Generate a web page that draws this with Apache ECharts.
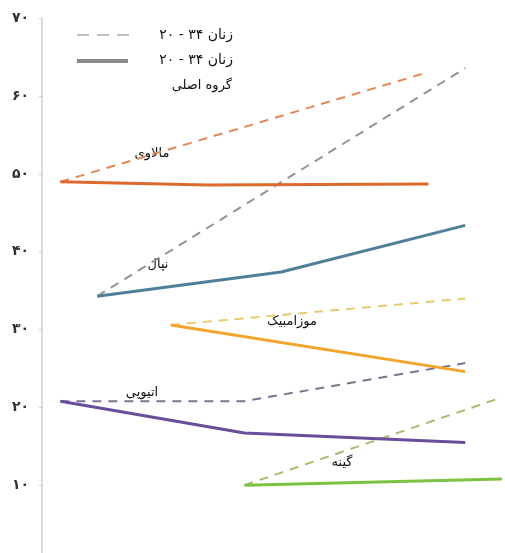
<!DOCTYPE html>
<html>
<head>
<meta charset="utf-8">
<script src="https://cdn.jsdelivr.net/npm/echarts@6/dist/echarts.min.js"></script>
<style>
html,body{margin:0;padding:0;background:#fff;}
#chart{width:505px;height:553px;}
</style>
</head>
<body>
<div id="chart"></div>
<script>
// Y tick labels (Persian digits)
var yTickLabels = ['۰','۱۰','۲۰','۳۰','۴۰','۵۰','۶۰','۷۰'];

// Legend texts
var legendWomen = 'زنان ۳۴ - ۲۰';
var legendMain = 'گروه اصلی';

// Countries
var countryNames = ['مالاوی','نپال','موزامبیک','اتیوپی','گینه'];

// Malawi
var malawiYears = [2000, 2004, 2010];
var malawiMain = [49.0, 48.6, 48.7];
var malawiWomenYears = [2000, 2010];
var malawiWomen = [49.0, 63.1];

// Nepal
var nepalYears = [2001, 2006, 2011];
var nepalMain = [34.3, 37.4, 43.4];
var nepalWomenYears = [2001, 2011];
var nepalWomen = [34.3, 63.6];

// Mozambique
var mozYears = [2003, 2011];
var mozMain = [30.6, 24.6];
var mozWomenYears = [2003, 2011];
var mozWomen = [30.6, 34.0];

// Ethiopia
var ethYears = [2000, 2005, 2011];
var ethMain = [20.8, 16.7, 15.5];
var ethWomenYears = [2000, 2005, 2011];
var ethWomen = [20.8, 20.8, 25.7];

// Guinea
var guiYears = [2005, 2012];
var guiMain = [10.0, 10.8];
var guiWomenYears = [2005, 2012];
var guiWomen = [10.0, 21.3];

function pairs(xs, ys){ return xs.map(function(x,i){ return [x, ys[i]]; }); }

function solid(name, xs, ys, color){
  return {type:'line', name:name, data:pairs(xs,ys), symbol:'none', z:3,
    lineStyle:{color:color, width:3}};
}
function dashed(name, xs, ys, color){
  return {type:'line', name:name, data:pairs(xs,ys), symbol:'none', z:2,
    lineStyle:{color:color, width:2, type:[9,7]}};
}

var chart = echarts.init(document.getElementById('chart'));
var font = "'DejaVu Sans', 'Noto Sans', sans-serif";

var option = {
  animation:false,
  backgroundColor:'#ffffff',
  grid:{left:42, top:18.4, width:460, height:544.6, containLabel:false, outerBoundsMode:'none'},
  xAxis:{type:'value', min:1999.5, max:2012, show:false},
  yAxis:{type:'value', min:0, max:70, interval:10,
    axisLine:{show:true, lineStyle:{color:'#cfcfcf', width:1.5}},
    axisTick:{show:true, length:3, lineStyle:{color:'#cfcfcf'}},
    splitLine:{show:false},
    axisLabel:{margin:13, fontSize:14, fontWeight:'bold', color:'#333', fontFamily:font,
      formatter:function(v){ return v === 0 ? '' : yTickLabels[Math.round(v/10)]; }}
  },
  series:[
    dashed('malawiWomen', malawiWomenYears, malawiWomen, '#e2895a'),
    dashed('nepalWomen', nepalWomenYears, nepalWomen, '#8c959b'),
    dashed('mozWomen', mozWomenYears, mozWomen, '#e6cc6e'),
    dashed('ethWomen', ethWomenYears, ethWomen, '#7e7492'),
    dashed('guiWomen', guiWomenYears, guiWomen, '#a9bd72'),
    solid('malawiMain', malawiYears, malawiMain, '#dc6a2c'),
    solid('nepalMain', nepalYears, nepalMain, '#4f8098'),
    solid('mozMain', mozYears, mozMain, '#f3a42c'),
    solid('ethMain', ethYears, ethMain, '#6a4d9b'),
    solid('guiMain', guiYears, guiMain, '#7cc243')
  ],
  graphic:[
    {type:'line', shape:{x1:77,y1:35,x2:129,y2:35}, style:{stroke:'#aaaaaa', lineWidth:1.5, lineDash:[12,8]}},
    {type:'line', shape:{x1:77,y1:61,x2:128,y2:61}, style:{stroke:'#8a8a8a', lineWidth:4}},
    {type:'text', x:233, y:35, style:{text:legendWomen, textAlign:'right', textVerticalAlign:'middle', font:'14px '+font, fill:'#111'}},
    {type:'text', x:233, y:60, style:{text:legendWomen, textAlign:'right', textVerticalAlign:'middle', font:'14px '+font, fill:'#111'}},
    {type:'text', x:232, y:86, style:{text:legendMain, textAlign:'right', textVerticalAlign:'middle', font:'13px '+font, fill:'#111'}},
    {type:'text', x:152, y:154, style:{text:countryNames[0], textAlign:'center', textVerticalAlign:'middle', font:'13px '+font, fill:'#111'}},
    {type:'text', x:158, y:265, style:{text:countryNames[1], textAlign:'center', textVerticalAlign:'middle', font:'13px '+font, fill:'#111'}},
    {type:'text', x:292, y:322, style:{text:countryNames[2], textAlign:'center', textVerticalAlign:'middle', font:'13px '+font, fill:'#111'}},
    {type:'text', x:142, y:393, style:{text:countryNames[3], textAlign:'center', textVerticalAlign:'middle', font:'13px '+font, fill:'#111'}},
    {type:'text', x:342, y:463, style:{text:countryNames[4], textAlign:'center', textVerticalAlign:'middle', font:'13px '+font, fill:'#111'}}
  ]
};
chart.setOption(option);
</script>
</body>
</html>
